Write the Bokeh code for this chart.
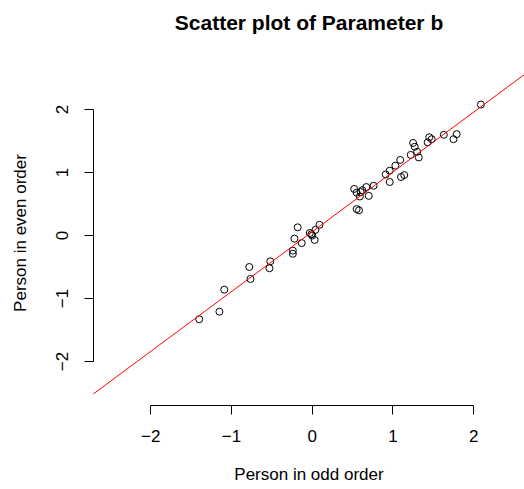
from bokeh.plotting import figure
from bokeh.models import Range1d, FixedTicker, Slope, ColumnDataSource, Title
from bokeh.embed import file_html
from bokeh.resources import INLINE

# Data
odd_order = [-1.40, -1.15, -1.09, -0.78, -0.765, -0.52, -0.53,
             -0.18, -0.22, -0.13, -0.24, -0.24, -0.03, 0.00, 0.04, 0.09, 0.03, -0.01,
             0.52, 0.55, 0.60, 0.67, 0.76, 0.70, 0.59, 0.55, 0.58, 0.62,
             0.91, 0.96, 1.03, 1.09, 0.96, 1.10, 1.14,
             1.22, 1.25, 1.27, 1.30, 1.32, 1.43, 1.45, 1.48,
             1.63, 1.75, 1.79, 2.09]
even_order = [-1.33, -1.21, -0.86, -0.50, -0.69, -0.41, -0.52,
              0.13, -0.05, -0.12, -0.24, -0.29, 0.04, 0.00, 0.09, 0.17, -0.07, 0.02,
              0.74, 0.68, 0.69, 0.77, 0.79, 0.63, 0.62, 0.42, 0.40, 0.72,
              0.97, 1.03, 1.11, 1.20, 0.85, 0.93, 0.96,
              1.28, 1.47, 1.41, 1.33, 1.24, 1.48, 1.56, 1.53,
              1.60, 1.53, 1.61, 2.08]
fit_intercept = 0.06
fit_slope = 0.95
tick_values = [-2, -1, 0, 1, 2]
title_text = "Scatter plot of Parameter b"

FONT = "Liberation Sans"

p = figure(width=524, height=489, output_backend="svg", toolbar_location=None,
           x_range=Range1d(-2.71, 2.63), y_range=Range1d(-2.70, 2.78),
           min_border_left=93, min_border_right=0, min_border_bottom=84, min_border_top=60)
p.outline_line_color = None
p.grid.visible = False
p.background_fill_color = "white"
p.border_fill_color = "white"

# empty spacer panel between the frame and the title
p.add_layout(Title(text=" ", standoff=0, text_font=FONT, text_font_size="22px"), "above")
p.add_layout(Title(text=title_text, align="center", standoff=0,
                   text_font=FONT, text_font_size="21px", text_font_style="bold",
                   text_color="black"), "above")

src = ColumnDataSource(dict(x=odd_order, y=even_order))
p.scatter("x", "y", source=src, size=7, fill_color=None, line_color="black", line_width=1)

p.add_layout(Slope(gradient=fit_slope, y_intercept=fit_intercept, line_color="red", line_width=1))

for ax in (p.xaxis[0], p.yaxis[0]):
    ax.ticker = FixedTicker(ticks=tick_values)
    ax.bounds = (-2, 2)
    ax.axis_line_color = "black"
    ax.major_tick_line_color = "black"
    ax.minor_tick_line_color = None
    ax.major_tick_out = 9
    ax.major_tick_in = 0
    ax.major_label_text_font = FONT
    ax.major_label_text_font_size = "17px"
    ax.major_label_text_color = "black"
    ax.axis_label_text_font = FONT
    ax.axis_label_text_font_size = "17px"
    ax.axis_label_text_font_style = "normal"
    ax.axis_label_text_color = "black"

p.xaxis[0].axis_label = "Person in odd order"
p.xaxis[0].major_label_standoff = 15
p.xaxis[0].axis_label_standoff = 20
p.yaxis[0].axis_label = "Person in even order"
p.yaxis[0].major_label_orientation = "vertical"
p.yaxis[0].major_label_standoff = 16
p.yaxis[0].axis_label_standoff = 24

open("out.html", "w").write(file_html(p, INLINE))
